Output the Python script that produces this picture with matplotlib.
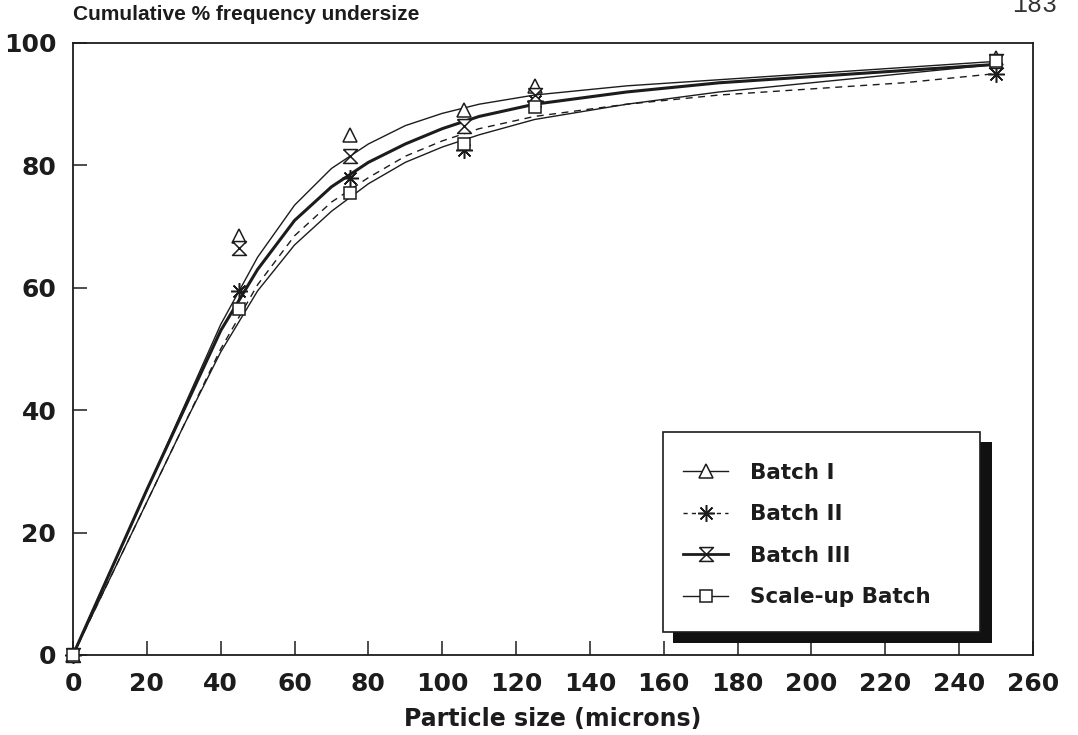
import matplotlib
matplotlib.use("Agg")
import matplotlib.pyplot as plt
from matplotlib.lines import Line2D
from matplotlib.patches import Rectangle

# ---- data ----
x_pts = [0, 45, 75, 106, 125, 250]
batch1 = [0, 68.5, 85.0, 89.0, 93.0, 97.5]
batch2 = [0, 59.5, 78.0, 82.5, 90.5, 95.0]
batch3 = [0, 66.5, 81.5, 86.5, 91.5, 97.0]
scaleup = [0, 56.5, 75.5, 83.5, 89.5, 97.0]

curve_x = [0, 10, 20, 30, 40, 50, 60, 70, 80, 90, 100, 110, 125, 150, 175, 200, 225, 250]
curve1 = [0, 13.5, 27.0, 40.5, 54.0, 65.0, 73.5, 79.5, 83.5, 86.5, 88.5, 90.0, 91.5, 93.0, 94.0, 95.0, 96.0, 97.0]
curve2 = [0, 12.5, 25.0, 37.5, 50.0, 60.5, 68.5, 74.0, 78.0, 81.5, 84.0, 86.0, 88.0, 90.0, 91.5, 92.5, 93.5, 95.0]
curve3 = [0, 13.5, 27.0, 40.0, 53.0, 63.0, 71.0, 76.5, 80.5, 83.5, 86.0, 88.0, 90.0, 92.0, 93.5, 94.5, 95.5, 96.5]
curve4 = [0, 12.5, 25.0, 37.5, 49.5, 59.5, 67.0, 72.5, 77.0, 80.5, 83.0, 85.0, 87.5, 90.0, 92.0, 93.5, 95.0, 96.5]

labels = ["Batch I", "Batch II", "Batch III", "Scale-up Batch"]
x_ticks = list(range(0, 261, 20))
y_ticks = list(range(0, 101, 20))

INK = "#1c1c1c"
WIDE = ["DejaVu Sans"]
NARROW = ["Liberation Sans", "DejaVu Sans"]
plt.rcParams["font.family"] = WIDE
plt.rcParams["font.weight"] = "bold"

hourglass = [(-1, 1), (1, 1), (-1, -1), (1, -1), (-1, 1)]
asterisk = (8, 2, 0)

fig = plt.figure(figsize=(10.78, 7.35), dpi=100)
ax = fig.add_axes([73/1078, 80/735, 960/1078, 612/735])
ax.set_xlim(0, 260)
ax.set_ylim(0, 100)

dash = (0, (5, 4))
ax.plot(curve_x, curve1, color=INK, lw=1.0, zorder=3)
ax.plot(curve_x, curve2, color=INK, lw=1.0, linestyle=dash, zorder=3)
ax.plot(curve_x, curve3, color=INK, lw=2.2, zorder=3)
ax.plot(curve_x, curve4, color=INK, lw=1.0, zorder=3)

ms = 10
ax.plot(x_pts, batch1, linestyle="none", marker="^", ms=ms, mfc="white", mec=INK, mew=1.1, zorder=5, clip_on=False)
ax.plot(x_pts, batch2, linestyle="none", marker=asterisk, ms=ms+2, mec=INK, mew=1.1, zorder=5, clip_on=False)
ax.plot(x_pts, batch3, linestyle="none", marker=hourglass, ms=ms, mfc="white", mec=INK, mew=1.1, zorder=5, clip_on=False)
ax.plot(x_pts, scaleup, linestyle="none", marker="s", ms=ms-1, mfc="white", mec=INK, mew=1.1, zorder=5, clip_on=False)

ax.set_xticks(x_ticks)
ax.set_yticks(y_ticks)
ax.tick_params(direction="in", length=10, width=1.1, color=INK, labelsize=18, labelcolor=INK)
ax.tick_params(axis="x", pad=12)
ax.tick_params(axis="y", pad=12)
for s in ax.spines.values():
    s.set_color(INK)
    s.set_linewidth(1.3)

ax.set_xlabel("Particle size (microns)", fontsize=17, color=INK, labelpad=8, fontweight="bold")
fig.text(73/1078, 1 - 15/735, "Cumulative % frequency undersize", fontsize=15, color=INK,
         ha="left", va="center", fontweight="bold", family=NARROW)
fig.text(1012/1078, 1 - 5/735, "183", fontsize=18, color="#333333", ha="left", va="center",
         family=["Liberation Mono", "DejaVu Sans Mono"], fontweight="normal")

# legend box with shadow
def ax_box(x0, y0, x1, y1):
    X0 = (x0 - 73) / 960
    X1 = (x1 - 73) / 960
    Y0 = (655 - y1) / 612
    Y1 = (655 - y0) / 612
    return (X0, Y0), X1 - X0, Y1 - Y0

xy, w, h = ax_box(673, 442, 992, 643)
ax.add_patch(Rectangle(xy, w, h, transform=ax.transAxes, facecolor="#111111", edgecolor="none", zorder=6))
xy, w, h = ax_box(663, 432, 980, 632)
ax.add_patch(Rectangle(xy, w, h, transform=ax.transAxes, facecolor="white", edgecolor=INK, lw=1.2, zorder=7))

handles = [
    Line2D([], [], color=INK, lw=1.0, marker="^", ms=ms, mfc="white", mec=INK, mew=1.1),
    Line2D([], [], color=INK, lw=1.0, linestyle=(0, (3, 3)), marker=asterisk, ms=ms+2, mec=INK, mew=1.1),
    Line2D([], [], color=INK, lw=2.0, marker=hourglass, ms=ms, mfc="white", mec=INK, mew=1.1),
    Line2D([], [], color=INK, lw=1.0, marker="s", ms=ms-1, mfc="white", mec=INK, mew=1.1),
]
leg = ax.legend(handles, labels, loc="center left", bbox_to_anchor=((683-73)/960, (655-535)/612),
                frameon=False, fontsize=15.5, handlelength=2.1, handletextpad=1.0, labelspacing=1.0,
                borderpad=0, borderaxespad=0)
leg.set_zorder(8)
for t in leg.get_texts():
    t.set_color(INK)
    t.set_fontweight("bold")

fig.savefig("out.png", dpi=100)
